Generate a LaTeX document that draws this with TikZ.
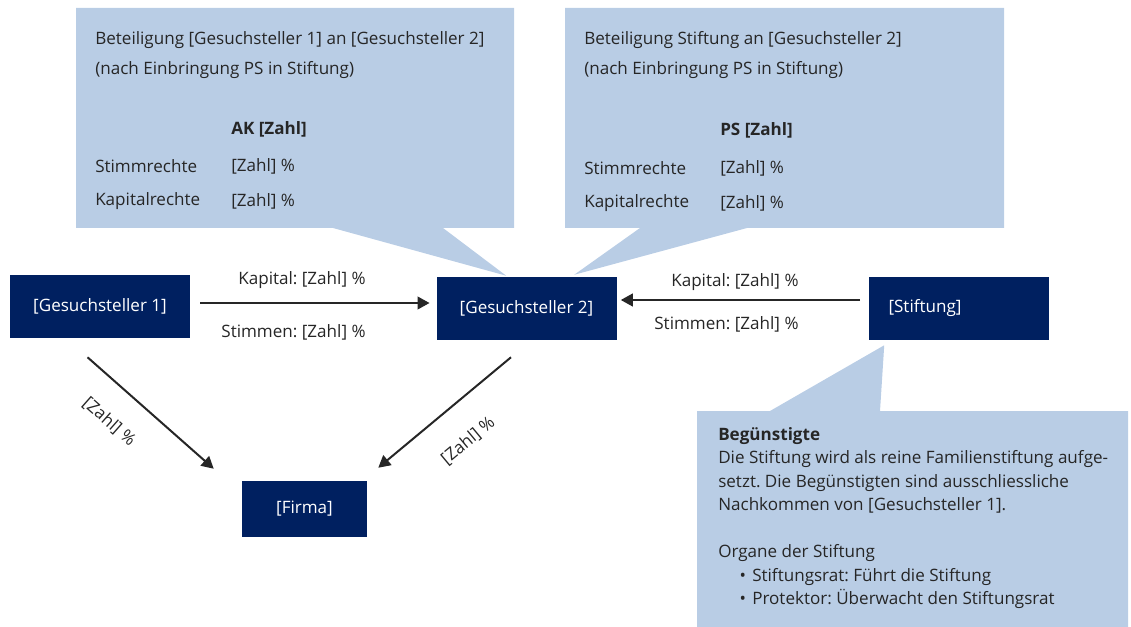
\documentclass[tikz,border=0pt]{standalone}
\usepackage{fontspec}
\setmainfont{Open Sans}
\usetikzlibrary{positioning, arrows.meta, calc}

\definecolor{navyblue}{HTML}{002060}
\definecolor{calloutblue}{HTML}{B9CDE5}
\definecolor{textgray}{HTML}{262626}
\frenchspacing

\begin{document}
\begin{tikzpicture}[
    x=0.75pt, y=-0.75pt,
    font=\fontsize{12.8}{15}\selectfont,
    >=Triangle,
    party/.style={
        rectangle,
        fill=navyblue,
        text=white,
        minimum width=135pt,
        minimum height=47.25pt,
        inner sep=0pt
    },
    callout/.style={fill=calloutblue},
    lbl/.style={text=textgray, inner sep=0pt},
    arrow/.style={-{Triangle[length=9pt, width=9.5pt]}, line width=1.5pt, textgray}
]
\useasboundingbox (0,0) rectangle (1131,627);

% Parteien
\node[party] (gs1) at (100,306.5) {[Gesuchsteller 1]};
\node[party] (gs2) at (526.5,308.5) {[Gesuchsteller 2]};
\node[party, text width=105pt, inner xsep=15pt, align=left] (stiftung) at (958.5,308.5) {[Stiftung]};
\node[party, minimum width=93.75pt, minimum height=42pt] (firma) at (304.5,509) {[Firma]};

% Sprechblasen
\fill[callout] (76,8) -- (514,8) -- (514,228) -- (443,228)
    -- ($(gs2.north west)+(70,-1)$) -- (333,228) -- (76,228) -- cycle;
\fill[callout] (565,8) -- (1004,8) -- (1004,228) -- (747,228)
    -- ($(gs2.north west)+(138,-2)$) -- (640,228) -- (565,228) -- cycle;
\fill[callout] (697,411) -- (770,411) -- ($(stiftung.south west)+(16,5)$)
    -- (880,411) -- (1128,411) -- (1128,627) -- (697,627) -- cycle;

% Beteiligung Gesuchsteller 1
\node[lbl, anchor=west] (bet1) at (95,40) {Beteiligung [Gesuchsteller 1] an [Gesuchsteller 2]};
\node[lbl, anchor=west] (nach1) at (95,70) {(nach Einbringung PS in Stiftung)};
\node[lbl, anchor=west, font=\fontsize{12.8}{15}\selectfont\bfseries] (ak) at (231,129) {AK [Zahl]};
\node[lbl, anchor=west] (stimm1) at (95,166) {Stimmrechte};
\node[lbl, anchor=west] (stimm1v) at (231,166) {[Zahl] \%};
\node[lbl, anchor=west] (kapr1) at (95,201) {Kapitalrechte};
\node[lbl, anchor=west] (kapr1v) at (231,201) {[Zahl] \%};

% Beteiligung Stiftung
\node[lbl, anchor=west] (bet2) at (584,40) {Beteiligung Stiftung an [Gesuchsteller 2]};
\node[lbl, anchor=west] (nach2) at (584,70) {(nach Einbringung PS in Stiftung)};
\node[lbl, anchor=west, font=\fontsize{12.8}{15}\selectfont\bfseries] (ps) at (720,130) {PS [Zahl]};
\node[lbl, anchor=west] (stimm2) at (584,168) {Stimmrechte};
\node[lbl, anchor=west] (stimm2v) at (720,168) {[Zahl] \%};
\node[lbl, anchor=west] (kapr2) at (584,203) {Kapitalrechte};
\node[lbl, anchor=west] (kapr2v) at (720,203) {[Zahl] \%};

% Beguenstigte
\node[lbl, anchor=north west, align=left, font=\fontsize{12.8}{17.6}\selectfont] (begue) at (718,427) {%
    \textbf{Begünstigte}\\
    Die Stiftung wird als reine Familienstiftung aufge-\\
    setzt. Die Begünstigten sind ausschliessliche\\
    Nachkommen von [Gesuchsteller 1].\\[17.6pt]
    Organe der Stiftung\\
    \hspace*{16pt}\makebox[9.5pt][l]{\textbullet}Stiftungsrat: Führt die Stiftung\\
    \hspace*{16pt}\makebox[9.5pt][l]{\textbullet}Protektor: Überwacht den Stiftungsrat};

% Pfeile
\draw[arrow, shorten <=7.5pt, shorten >=5pt] ($(gs1.east)+(0,-3.5)$) --
    node[lbl, pos=0.717, anchor=east, yshift=17.25pt] (kap1) {Kapital: [Zahl] \%}
    node[lbl, pos=0.717, anchor=east, yshift=-21.75pt] (stim1) {Stimmen: [Zahl] \%}
    ($(gs2.west)+(0,-5.5)$);
\draw[arrow, shorten <=6pt, shorten >=3pt] ($(stiftung.west)+(0,-8.5)$) --
    node[lbl, pos=0.273, anchor=east, yshift=13.5pt] (kap2) {Kapital: [Zahl] \%}
    node[lbl, pos=0.273, anchor=east, yshift=-18pt] (stim2) {Stimmen: [Zahl] \%}
    ($(gs2.east)+(0,-8.5)$);
\draw[arrow] ($(gs1.south)+(-12.5,19)$) --
    node[lbl, pos=0.35, sloped, below=19pt] (z1) {[Zahl] \%}
    ($(firma.north west)+(-28,-12)$);
\draw[arrow] ($(gs2.south)+(-15.5,17)$) --
    node[lbl, midway, sloped, below=21pt] (z2) {[Zahl] \%}
    ($(firma.north east)+(11,-13)$);

\end{tikzpicture}
\end{document}
